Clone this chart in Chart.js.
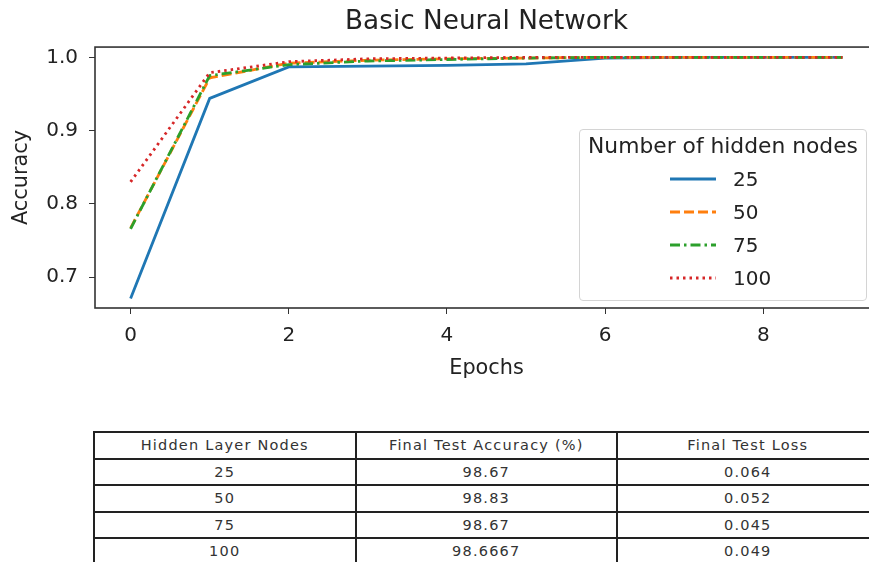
<!DOCTYPE html>
<html>
<head>
<meta charset="utf-8">
<script src="https://cdn.jsdelivr.net/npm/chart.js@4.4.1/dist/chart.umd.min.js"></script>
<style>
  html, body { margin: 0; padding: 0; background: #fff; }
  body { width: 869px; height: 562px; overflow: hidden; position: relative; font-family: "DejaVu Sans", sans-serif; }
  #chart { position: absolute; left: 0; top: 0; }
  #legend {
    position: absolute; left: 579px; top: 129px; width: 286px; height: 170px;
    border: 1px solid #d4d4d4; border-radius: 4px; background: rgba(255,255,255,0.85);
    color: #222; font-size: 20px;
  }
  #legend .ttl { position: absolute; left: 0; width: 100%; top: 3px; text-align: center; font-size: 21.8px; white-space: nowrap; }
  #legend .row { position: absolute; left: 90px; height: 30px; display: flex; align-items: center; }
  #legend .row svg { margin-right: 17px; }
  #tbl {
    position: absolute; left: 93px; top: 431px; border-collapse: collapse; table-layout: fixed; width: 786px;
    font-family: "DejaVu Sans", sans-serif; font-size: 14.5px; letter-spacing: 1.2px; color: #333;
  }
  #tbl tr { height: 26.5px; }
  #tbl td { border: 2px solid #222; width: 259.5px; text-align: center; padding: 0; white-space: nowrap; }
</style>
</head>
<body>
<canvas id="chart" width="972" height="400"></canvas>
<div id="legend"><div class="ttl">Number of hidden nodes</div></div>
<table id="tbl"></table>
<script>
// chart data
const epochs = [0, 1, 2, 3, 4, 5, 6, 7, 8, 9];
const hiddenNodes = ['25', '50', '75', '100'];
const acc25  = [0.671, 0.944, 0.987, 0.988, 0.989, 0.991, 0.999, 1.0, 1.0, 1.0];
const acc50  = [0.767, 0.972, 0.992, 0.996, 0.998, 0.999, 1.0, 1.0, 1.0, 1.0];
const acc75  = [0.766, 0.975, 0.990, 0.995, 0.997, 0.999, 1.0, 1.0, 1.0, 1.0];
const acc100 = [0.830, 0.979, 0.994, 0.998, 0.999, 1.0, 1.0, 1.0, 1.0, 1.0];
const xTicks = [0, 2, 4, 6, 8];
const yTicks = [0.7, 0.8, 0.9, 1.0];

// table data
const tableHeaders = ['Hidden Layer Nodes', 'Final Test Accuracy (%)', 'Final Test Loss'];
const tableNodes = ['25', '50', '75', '100'];
const tableAccuracy = ['98.67', '98.83', '98.67', '98.6667'];
const tableLoss = ['0.064', '0.052', '0.045', '0.049'];

const colors = ['#1f77b4', '#ff7f0e', '#2ca02c', '#d62728'];
const dashes = [[], [10, 4], [10, 4, 2.5, 4], [2.5, 4]];
const series = [acc25, acc50, acc75, acc100];

Chart.defaults.font.family = 'DejaVu Sans';
Chart.defaults.color = '#222';

const datasets = series.map(function(vals, i) {
    return {
        label: hiddenNodes[i],
        data: vals.map(function(v, j) { return { x: epochs[j], y: v }; }),
        borderColor: colors[i],
        borderDash: dashes[i],
        borderWidth: 2.8,
        pointRadius: 0,
        tension: 0,
        fill: false,
        order: series.length - i
    };
});

// box round the plot area, like the matplotlib frame
const framePlugin = {
    id: 'frame',
    afterDatasetsDraw(chart) {
        const a = chart.chartArea;
        const ctx = chart.ctx;
        ctx.save();
        ctx.strokeStyle = '#333';
        ctx.lineWidth = 1.6;
        ctx.strokeRect(a.left, a.top, a.right - a.left, a.bottom - a.top);
        ctx.restore();
    }
};

new Chart(document.getElementById('chart').getContext('2d'), {
    type: 'line',
    data: { datasets: datasets },
    plugins: [framePlugin],
    options: {
        responsive: false,
        animation: false,
        layout: { padding: { left: 0, right: 94, top: 0, bottom: 12 }, autoPadding: false },
        plugins: {
            legend: { display: false },
            tooltip: { enabled: false },
            title: {
                display: true,
                text: 'Basic Neural Network',
                fullSize: false,
                color: '#222',
                font: { size: 26.3, weight: 'normal' },
                padding: { top: 6, bottom: 9.5 }
            }
        },
        scales: {
            x: {
                type: 'linear',
                min: -0.45,
                max: 9.45,
                afterBuildTicks: function(scale) { scale.ticks = xTicks.map(function(v) { return { value: v }; }); },
                afterFit: function(scale) { scale.height = 80; },
                ticks: { font: { size: 20 }, padding: 10, callback: function(v) { return String(v); } },
                grid: { drawOnChartArea: false, drawTicks: true, tickLength: 6, tickColor: '#333' },
                border: { display: false },
                title: { display: true, text: 'Epochs', font: { size: 20.8 }, padding: { top: 0, bottom: 7 } }
            },
            y: {
                min: 0.658,
                max: 1.014,
                afterBuildTicks: function(scale) { scale.ticks = yTicks.map(function(v) { return { value: v }; }); },
                afterFit: function(scale) { scale.width = 95; },
                ticks: { font: { size: 20 }, padding: 11, callback: function(v) { return Number(v).toFixed(1); } },
                grid: { drawOnChartArea: false, drawTicks: true, tickLength: 6, tickColor: '#333' },
                border: { display: false },
                title: { display: true, text: 'Accuracy', font: { size: 20.8 }, padding: { top: 9, bottom: 0 } }
            }
        }
    }
});

// legend built from the datasets
const legendEl = document.getElementById('legend');
datasets.forEach(function(ds, i) {
    const row = document.createElement('div');
    row.className = 'row';
    row.style.top = (34 + i * 33) + 'px';
    row.innerHTML = '<svg width="46" height="10"><line x1="0" y1="5" x2="46" y2="5" stroke="' + ds.borderColor +
        '" stroke-width="2.8" stroke-dasharray="' + (ds.borderDash.length ? ds.borderDash.join(' ') : 'none') + '"/></svg>' +
        '<span>' + ds.label + '</span>';
    legendEl.appendChild(row);
});

// results table under the chart
const tbl = document.getElementById('tbl');
const rows = [tableHeaders].concat(tableNodes.map(function(n, i) { return [n, tableAccuracy[i], tableLoss[i]]; }));
rows.forEach(function(r) {
    const tr = document.createElement('tr');
    r.forEach(function(c) {
        const td = document.createElement('td');
        td.textContent = c;
        tr.appendChild(td);
    });
    tbl.appendChild(tr);
});
</script>
</body>
</html>
